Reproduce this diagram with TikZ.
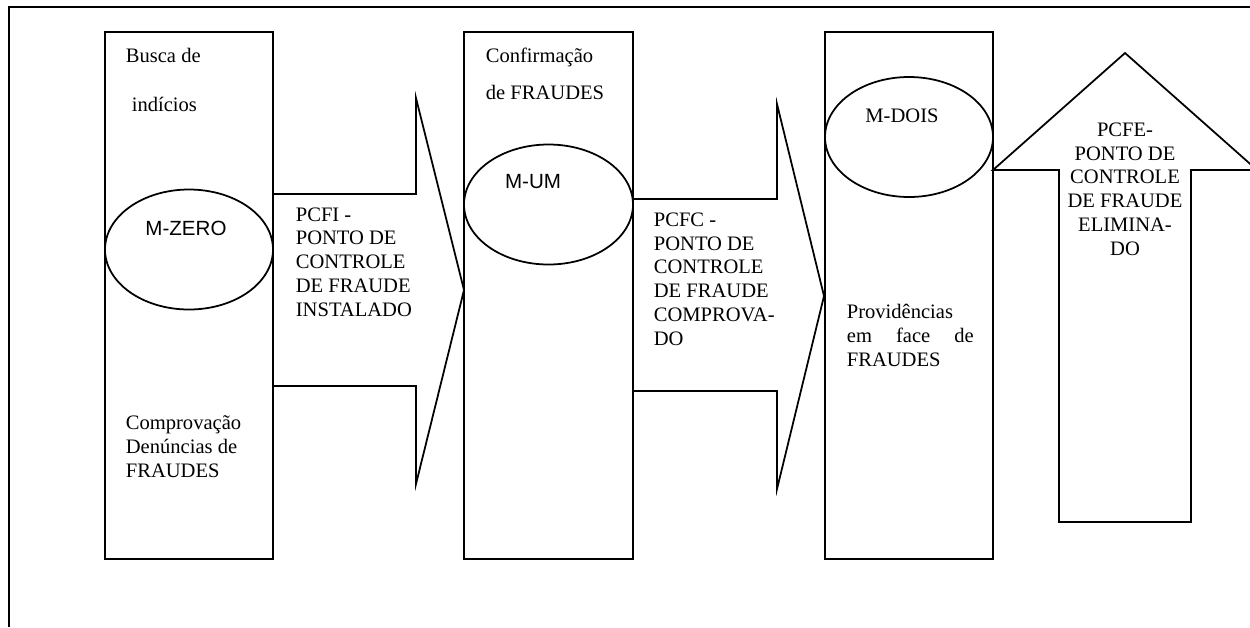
\documentclass[tikz,border=0pt]{standalone}
\usepackage{fontspec}
\setmainfont{Liberation Serif}
\newfontfamily\arialfont{Liberation Sans}

\begin{document}
\begin{tikzpicture}[x=0.02cm, y=-0.02cm, line width=1pt,
    every node/.style={inner sep=0pt, font=\fontsize{11.7}{13.5}\selectfont},
    lbl/.style={anchor=base west, align=left},
    mlbl/.style={anchor=base, font=\arialfont\fontsize{11.7}{13.5}\selectfont}]
    \useasboundingbox (0,0) rectangle (1250,627);
    % Frame
    \draw[line width=0.8pt] (1250,7) -- (9,7) -- (9,627);
    % Boxes
    \draw (105,32) rectangle (273,559);
    \draw (464,32) rectangle (633,559);
    \draw (825,32) rectangle (993,559);
    % Ellipses
    \draw (189,249.5) ellipse (84 and 60);
    \draw (548.5,204.5) ellipse (84.5 and 60);
    \draw (909,137) ellipse (84 and 60);
    % Arrows
    \draw (273,194) -- (416,194) -- (416,98) -- (464,290) -- (416,484) -- (416,386) -- (273,386);
    \draw (633,199) -- (777,199) -- (777,104) -- (824,296) -- (777,489) -- (777,391) -- (633,391);
    \draw (1059,522) -- (1059,170) -- (993,170) -- (1125,53) -- (1257,170) -- (1191,170) -- (1191,522) -- cycle;
    % Nodes (multi-line ones sit on the baseline of their last line)
    \node[lbl] (busca) at (125,62) {Busca de};
    \node[lbl] (indicios) at (131,111) {indícios};
    \node[lbl] (comprov) at (125,477) {Comprovação\\Denúncias de\\FRAUDES};
    \node[mlbl] (mzero) at (186,235) {M-ZERO};
    \node[lbl] (pcfi) at (295,316) {PCFI -\\PONTO DE\\CONTROLE\\DE FRAUDE\\INSTALADO};
    \node[lbl] (confirm) at (485,62) {Confirmação};
    \node[lbl] (defraudes) at (485,99) {de FRAUDES};
    \node[mlbl] (mum) at (533,188) {M-UM};
    \node[lbl] (pcfc) at (653,345) {PCFC -\\PONTO DE\\CONTROLE\\DE FRAUDE\\COMPROVA-\\DO};
    \node[anchor=base] (mdois) at (902,122) {M-DOIS};
    \node[lbl] (provid) at (846,366) {Providências\\\makebox[2.54cm][s]{em face de}\\FRAUDES};
    \node[anchor=base, align=center] (pcfe) at (1125,255) {PCFE-\\PONTO DE\\CONTROLE\\DE FRAUDE\\ELIMINA-\\DO};
\end{tikzpicture}
\end{document}
